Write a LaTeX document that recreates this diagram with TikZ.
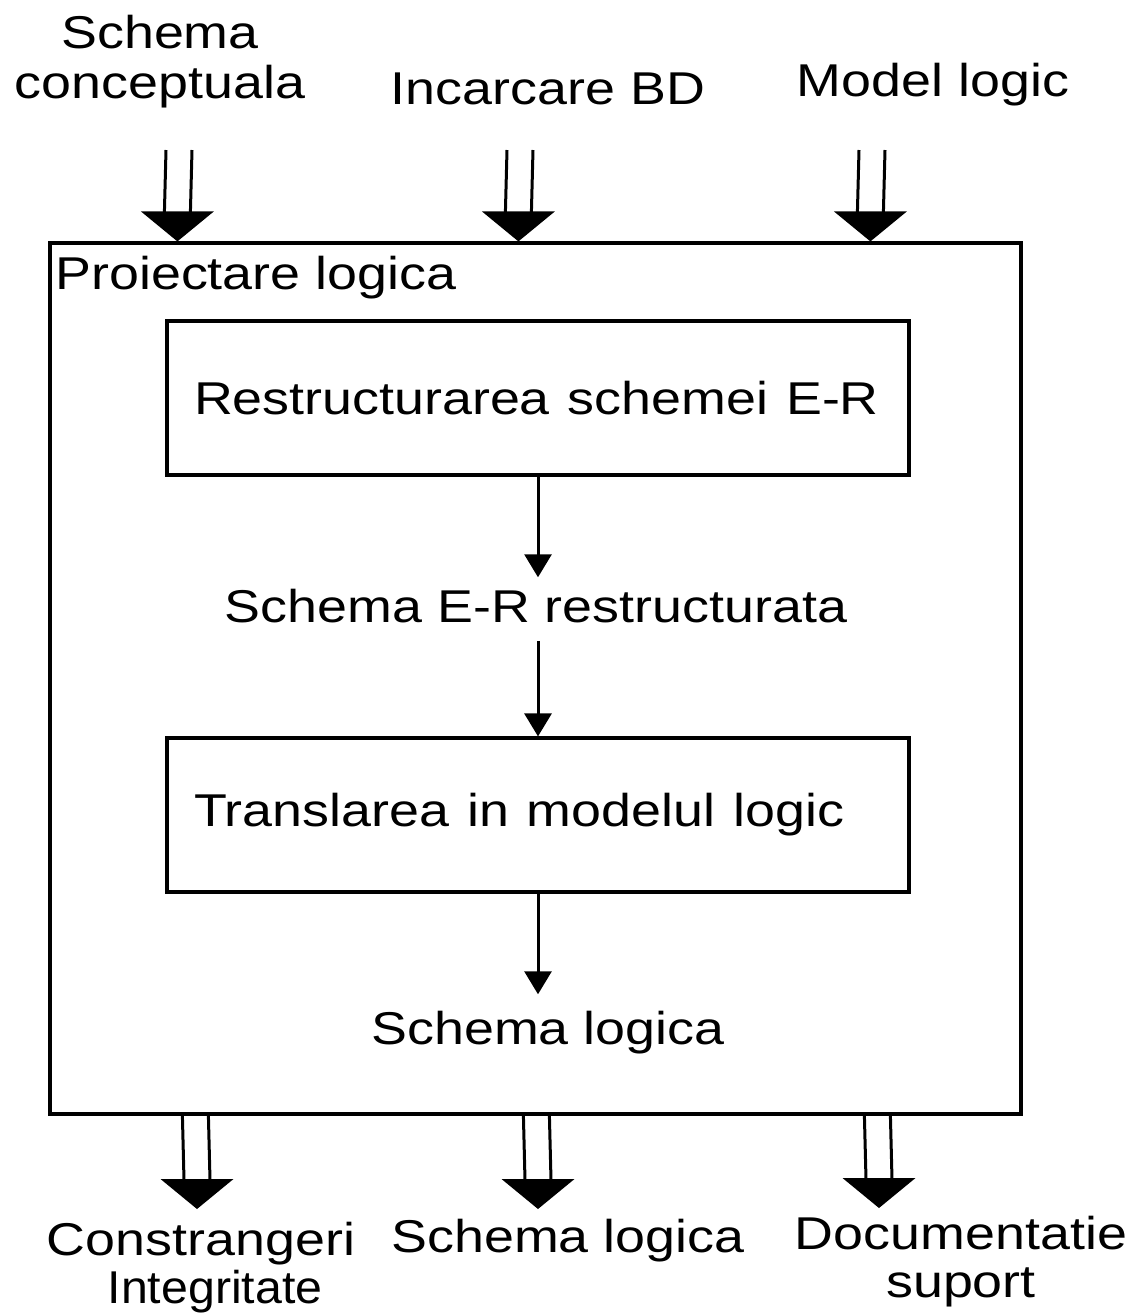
\documentclass[tikz,border=0pt]{standalone}
\usepackage{fontspec}
\setmainfont{Liberation Sans}
\usetikzlibrary{arrows.meta,calc}
% horizontally widened text
\newcommand{\wtext}[1]{\scalebox{1.17}[1]{#1}}
% hollow double-shaft arrow with a solid triangular head: #1 start, #2 tip (same x)
\newcommand{\fatarrow}[2]{%
  \fill ($(#2)+(-36.5,-30)$) -- ($(#2)+(36.5,-30)$) -- (#2) -- cycle;
  \draw[twin] ($(#1)+(-13,0)$) -- ($(#2)+(-13,-29)$)
              ($(#1)+(13,0)$) -- ($(#2)+(13,-29)$);}
\begin{document}
\begin{tikzpicture}[x=0.5pt,y=-0.5pt,
  lbl/.style={inner sep=0pt, anchor=base, font=\fontsize{23}{27.6}\selectfont},
  frame/.style={draw, line width=1.6pt, inner sep=0pt},
  stage/.style={draw, line width=1.6pt, minimum width=371pt, minimum height=77pt,
    text width=344pt, inner xsep=13.5pt, inner ysep=0pt, align=left,
    font=\fontsize{23}{27.6}\selectfont},
  flow/.style={line width=1.5pt, -{Triangle[length=11.5pt,width=13.5pt]}},
  twin/.style={line width=1.5pt},
]
\useasboundingbox (0,0) rectangle (1136,1313);

% process frame
\node[frame, minimum width=485.5pt, minimum height=435.5pt] (proc) at (535.5,678.5) {};
\node[lbl, anchor=base west] (title) at (55,289) {\wtext{Proiectare logica}};

% inner steps
\node[stage] (restr) at (538,398) {\wtext{Restructurarea schemei E-R}};
\node[lbl] (er) at (536,622) {\wtext{Schema E-R restructurata}};
\node[stage] (transl) at (538,815) {\wtext{Translarea in modelul logic}};
\node[lbl] (sl) at (548,1044) {\wtext{Schema logica}};

\draw[flow, shorten >=5.5pt] (restr.south) -- (restr.south |- er.north);
\draw[flow, shorten <=9pt] (restr.south |- er.south) -- (transl.north);
\draw[flow, shorten >=8pt] (transl.south) -- (transl.south |- sl.north);

% inputs
\node[lbl] (c1a) at (160,48) {\wtext{Schema}};
\node[lbl] (c1b) at (160,98) {\wtext{conceptuala}};
\node[lbl] (c2) at (548,104) {\wtext{Incarcare BD}};
\node[lbl] (c3) at (933,96) {\wtext{Model logic}};

\coordinate (t1) at ($(proc.north west)+(129,0)$);
\coordinate (t2) at ($(proc.north west)+(470,0)$);
\coordinate (t3) at ($(proc.north west)+(822,0)$);
\coordinate (i1) at (179,150);
\coordinate (i2) at (520,150);
\coordinate (i3) at (872,150);
\fatarrow{i1}{t1}
\fatarrow{i2}{t2}
\fatarrow{i3}{t3}

% outputs
\node[lbl] (o1a) at (201,1255) {\wtext{Constrangeri}};
\node[lbl] (o1b) at (215,1303) {\scalebox{1.05}[1]{Integritate}};
\node[lbl] (o2) at (568,1252) {\wtext{Schema logica}};
\node[lbl] (o3a) at (961,1249) {\wtext{Documentatie}};
\node[lbl] (o3b) at (961,1297) {\wtext{suport}};

\coordinate (s1) at ($(proc.south west)+(147,0)$);
\coordinate (s2) at ($(proc.south west)+(488,0)$);
\coordinate (s3) at ($(proc.south west)+(829,0)$);
\coordinate (e1) at (197,1209);
\coordinate (e2) at (538,1209);
\coordinate (e3) at (879,1208);
\fatarrow{s1}{e1}
\fatarrow{s2}{e2}
\fatarrow{s3}{e3}
\end{tikzpicture}
\end{document}
